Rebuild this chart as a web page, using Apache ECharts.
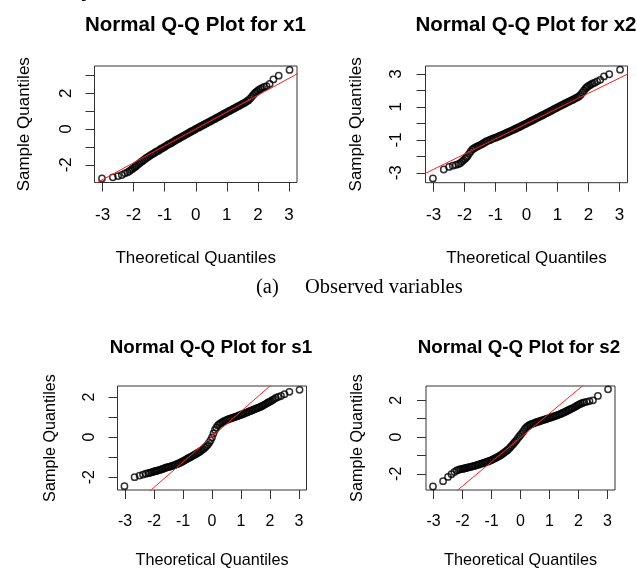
<!DOCTYPE html>
<html>
<head>
<meta charset="utf-8">
<title>Normal Q-Q Plots</title>
<script src="https://cdn.jsdelivr.net/npm/echarts@6/dist/echarts.min.js"></script>
<style>
  html, body { margin: 0; padding: 0; background: #fff; }
  #chart { width: 637px; height: 570px; }
</style>
</head>
<body>
<div id="chart"></div>
<script>
// Theoretical normal quantiles (thinned plotting positions, shared by all four variables)
const theoretical = [
  -3.02, -2.67, -2.50, -2.38, -2.28, -2.20, -2.14, -2.08, -2.03, -1.98, -1.94, -1.90,
  -1.85, -1.80, -1.75, -1.70, -1.65, -1.60, -1.55, -1.50, -1.45, -1.40,
  -1.35, -1.30, -1.25, -1.20, -1.15, -1.10, -1.05, -1.00, -0.95, -0.90,
  -0.85, -0.80, -0.75, -0.70, -0.65, -0.60, -0.55, -0.50, -0.45, -0.40,
  -0.35, -0.30, -0.25, -0.20, -0.15, -0.10, -0.05, 0.00, 0.05, 0.10,
  0.15, 0.20, 0.25, 0.30, 0.35, 0.40, 0.45, 0.50, 0.55, 0.60,
  0.65, 0.70, 0.75, 0.80, 0.85, 0.90, 0.95, 1.00, 1.05, 1.10,
  1.15, 1.20, 1.25, 1.30, 1.35, 1.40, 1.45, 1.50, 1.55, 1.60,
  1.65, 1.70, 1.75, 1.80, 1.85,
  1.90, 1.94, 1.98, 2.03, 2.08, 2.14, 2.20, 2.28, 2.38, 2.50, 2.67, 3.02
];

// Sorted sample quantiles of each variable
const sampleX1 = [
  -2.76, -2.70, -2.63, -2.57, -2.48, -2.42, -2.36, -2.28, -2.22, -2.15, -2.10, -2.04,
  -1.97, -1.90, -1.83, -1.77, -1.70, -1.63, -1.58, -1.52, -1.46, -1.41,
  -1.36, -1.30, -1.25, -1.21, -1.14, -1.09, -1.05, -0.99, -0.94, -0.88,
  -0.84, -0.79, -0.74, -0.69, -0.63, -0.58, -0.54, -0.48, -0.44, -0.39,
  -0.34, -0.29, -0.24, -0.19, -0.14, -0.10, -0.05, 0.00, 0.05, 0.09,
  0.14, 0.18, 0.23, 0.28, 0.32, 0.37, 0.41, 0.46, 0.51, 0.55,
  0.60, 0.65, 0.69, 0.74, 0.79, 0.84, 0.88, 0.93, 0.98, 1.02,
  1.07, 1.12, 1.16, 1.21, 1.26, 1.30, 1.35, 1.40, 1.44, 1.49,
  1.55, 1.61, 1.70, 1.80, 1.90,
  2.00, 2.06, 2.12, 2.18, 2.24, 2.30, 2.35, 2.40, 2.52, 2.77, 2.98, 3.30
];
const sampleX2 = [
  -3.34, -2.80, -2.64, -2.57, -2.52, -2.47, -2.42, -2.32, -2.23, -2.14, -2.06, -1.98,
  -1.83, -1.70, -1.58, -1.52, -1.46, -1.41, -1.36, -1.32, -1.27, -1.22,
  -1.16, -1.10, -1.06, -1.02, -0.98, -0.94, -0.90, -0.87, -0.83, -0.79,
  -0.75, -0.71, -0.67, -0.62, -0.58, -0.54, -0.50, -0.45, -0.41, -0.37,
  -0.32, -0.28, -0.23, -0.19, -0.14, -0.09, -0.05, 0.00, 0.05, 0.10,
  0.15, 0.19, 0.24, 0.29, 0.34, 0.38, 0.43, 0.48, 0.53, 0.58,
  0.63, 0.67, 0.72, 0.77, 0.82, 0.87, 0.92, 0.97, 1.02, 1.07,
  1.11, 1.16, 1.21, 1.26, 1.30, 1.35, 1.40, 1.44, 1.49, 1.54,
  1.59, 1.65, 1.74, 1.86, 1.98,
  2.10, 2.18, 2.24, 2.30, 2.36, 2.42, 2.47, 2.55, 2.64, 2.85, 2.98, 3.26
];
const sampleS1 = [
  -2.45, -2.00, -1.92, -1.87, -1.83, -1.80, -1.78, -1.76, -1.73, -1.71, -1.69, -1.68,
  -1.66, -1.64, -1.61, -1.59, -1.56, -1.53, -1.51, -1.49, -1.47, -1.45,
  -1.42, -1.40, -1.37, -1.34, -1.31, -1.28, -1.24, -1.20, -1.16, -1.12,
  -1.08, -1.04, -1.00, -0.96, -0.92, -0.88, -0.84, -0.79, -0.75, -0.70,
  -0.65, -0.60, -0.53, -0.46, -0.38, -0.28, -0.17, -0.02, 0.18, 0.36,
  0.48, 0.58, 0.65, 0.70, 0.74, 0.78, 0.82, 0.85, 0.88, 0.91,
  0.93, 0.96, 0.98, 1.01, 1.03, 1.06, 1.09, 1.12, 1.14, 1.17,
  1.20, 1.23, 1.26, 1.29, 1.32, 1.35, 1.38, 1.41, 1.44, 1.47,
  1.50, 1.53, 1.57, 1.61, 1.65,
  1.70, 1.73, 1.76, 1.80, 1.84, 1.90, 1.95, 2.00, 2.05, 2.14, 2.26, 2.36
];
const sampleS2 = [
  -2.69, -2.40, -2.17, -2.02, -1.90, -1.82, -1.78, -1.75, -1.74, -1.72, -1.71, -1.69,
  -1.67, -1.65, -1.63, -1.61, -1.59, -1.57, -1.55, -1.52, -1.50, -1.47,
  -1.45, -1.42, -1.40, -1.37, -1.34, -1.31, -1.28, -1.25, -1.21, -1.17,
  -1.13, -1.09, -1.05, -1.00, -0.95, -0.89, -0.83, -0.77, -0.71, -0.64,
  -0.55, -0.46, -0.37, -0.28, -0.19, -0.08, 0.02, 0.12, 0.22, 0.32,
  0.44, 0.53, 0.60, 0.65, 0.69, 0.72, 0.75, 0.78, 0.81, 0.84,
  0.86, 0.89, 0.91, 0.94, 0.96, 0.99, 1.02, 1.04, 1.07, 1.10,
  1.12, 1.15, 1.18, 1.21, 1.24, 1.27, 1.31, 1.34, 1.38, 1.42,
  1.46, 1.50, 1.54, 1.58, 1.62,
  1.66, 1.70, 1.74, 1.78, 1.82, 1.86, 1.89, 1.92, 1.96, 2.00, 2.24, 2.60
];

// Reference lines through the quartiles, as [x, y] end points
const lineX1 = [[-3.5, -3.30], [3.5, 3.30]];
const lineX2 = [[-3.5, -3.25], [3.5, 3.21]];
const lineS1 = [[-3.5, -4.41], [3.5, 4.45]];
const lineS2 = [[-3.5, -4.64], [3.5, 4.58]];

// Axis ranges
const xRange = [-3.26, 3.26];
const yRangeX1 = [-2.99, 3.52];
const yRangeX2 = [-3.60, 3.48];
const yRangeS1 = [-2.64, 2.55];
const yRangeS2 = [-2.88, 2.78];

// Tick positions and labelled ticks
const xTicks = [-3, -2, -1, 0, 1, 2, 3];
const yTicksX1 = [-2, -1, 0, 1, 2, 3];
const yLabelsX1 = [-2, 0, 2];
const yTicksX2 = [-3, -2, -1, 0, 1, 2, 3];
const yLabelsX2 = [-3, -1, 1, 3];
const yTicksS = [-2, -1, 0, 1, 2];
const yLabelsS = [-2, 0, 2];

// Texts
const plotTitles = ['Normal Q-Q Plot for x1', 'Normal Q-Q Plot for x2',
                    'Normal Q-Q Plot for s1', 'Normal Q-Q Plot for s2'];
const xAxisTitle = 'Theoretical Quantiles';
const yAxisTitle = 'Sample Quantiles';
const captionTag = '(a)';
const captionText = 'Observed variables';

const SANS = '"Liberation Sans", Arial, Helvetica, sans-serif';
const SERIF = '"Liberation Serif", "Times New Roman", serif';

const panels = [
  { sample: sampleX1, line: lineX1, yRange: yRangeX1, yTicks: yTicksX1, yLabels: yLabelsX1,
    grid: { left: 94.5, top: 66, width: 202.5, height: 116.5 },
    title: { x: 195.5, y: 25, size: 20.5 }, tickFs: 17, nameFs: 17,
    xMargin: 24.5, yMargin: 20, xNameGap: 67, yNameGap: 62 },
  { sample: sampleX2, line: lineX2, yRange: yRangeX2, yTicks: yTicksX2, yLabels: yLabelsX2,
    grid: { left: 425.5, top: 66, width: 202, height: 116.7 },
    title: { x: 526, y: 25, size: 20.5 }, tickFs: 17, nameFs: 17,
    xMargin: 24.5, yMargin: 21, xNameGap: 67, yNameGap: 61 },
  { sample: sampleS1, line: lineS1, yRange: yRangeS1, yTicks: yTicksS, yLabels: yLabelsS,
    grid: { left: 117.5, top: 386, width: 189, height: 108 },
    title: { x: 211, y: 348, size: 18.8 }, tickFs: 16, nameFs: 16.2,
    xMargin: 23.5, yMargin: 20, xNameGap: 63, yNameGap: 59 },
  { sample: sampleS2, line: lineS2, yRange: yRangeS2, yTicks: yTicksS, yLabels: yLabelsS,
    grid: { left: 426, top: 386, width: 189, height: 108 },
    title: { x: 519, y: 348, size: 18.8 }, tickFs: 16, nameFs: 16.2,
    xMargin: 23.5, yMargin: 21, xNameGap: 63, yNameGap: 60 }
];

const grid = [], xAxis = [], yAxis = [], series = [], graphic = [];

panels.forEach((p, i) => {
  grid.push(Object.assign({ show: true, borderColor: '#333', borderWidth: 1,
    backgroundColor: 'transparent', containLabel: false }, p.grid));

  const tickStyle = { show: true, inside: false, length: 9, lineStyle: { color: '#333', width: 1 } };

  xAxis.push({
    type: 'value', gridIndex: i, min: xRange[0], max: xRange[1], position: 'bottom',
    axisLine: { show: false, onZero: false },
    splitLine: { show: false },
    axisTick: Object.assign({ customValues: xTicks }, tickStyle),
    axisLabel: { customValues: xTicks, color: '#000', fontFamily: SANS, fontSize: p.tickFs,
      margin: p.xMargin, showMinLabel: true, showMaxLabel: true },
    name: xAxisTitle, nameLocation: 'middle', nameGap: p.xNameGap,
    nameTextStyle: { color: '#000', fontFamily: SANS, fontSize: p.nameFs }
  });

  yAxis.push({
    type: 'value', gridIndex: i, min: p.yRange[0], max: p.yRange[1], position: 'left',
    axisLine: { show: false, onZero: false },
    splitLine: { show: false },
    axisTick: Object.assign({ customValues: p.yTicks }, tickStyle),
    axisLabel: { customValues: p.yLabels, rotate: 90, color: '#000', fontFamily: SANS,
      fontSize: p.tickFs, margin: p.yMargin },
    name: yAxisTitle, nameLocation: 'middle', nameGap: p.yNameGap, nameRotate: 90,
    nameTextStyle: { color: '#000', fontFamily: SANS, fontSize: p.nameFs }
  });

  series.push({
    type: 'scatter', xAxisIndex: i, yAxisIndex: i,
    data: theoretical.map((t, k) => [t, p.sample[k]]),
    symbol: 'circle', symbolSize: 6.3,
    itemStyle: { color: 'rgba(0,0,0,0)', borderColor: '#000', borderWidth: 1.5 },
    emphasis: { disabled: true }, silent: true
  });

  series.push({
    type: 'line', xAxisIndex: i, yAxisIndex: i,
    data: p.line, symbol: 'none', clip: true,
    lineStyle: { color: '#ff2020', width: 1 },
    emphasis: { disabled: true }, silent: true, z: 3
  });

  graphic.push({
    type: 'text', x: p.title.x, y: p.title.y,
    style: { text: plotTitles[i], fill: '#000', textAlign: 'center', textVerticalAlign: 'middle',
      font: 'bold ' + p.title.size + 'px ' + SANS }
  });
});

// Sub-figure caption between the two rows
graphic.push({
  type: 'text', x: 256, y: 288,
  style: { text: captionTag, fill: '#000', textAlign: 'left', textVerticalAlign: 'middle',
    font: '20.5px ' + SERIF }
});
graphic.push({
  type: 'text', x: 305, y: 288,
  style: { text: captionText, fill: '#000', textAlign: 'left', textVerticalAlign: 'middle',
    font: '20.5px ' + SERIF }
});
// Descender of a heading line cut off at the top edge
graphic.push({
  type: 'text', x: 81, y: 1,
  style: { text: 'y', fill: '#000', textAlign: 'left', textVerticalAlign: 'bottom',
    font: 'bold 20px ' + SANS }
});

const chart = echarts.init(document.getElementById('chart'), null, { renderer: 'canvas' });
chart.setOption({
  animation: false,
  backgroundColor: '#fff',
  grid, xAxis, yAxis, series, graphic
});
</script>
</body>
</html>
